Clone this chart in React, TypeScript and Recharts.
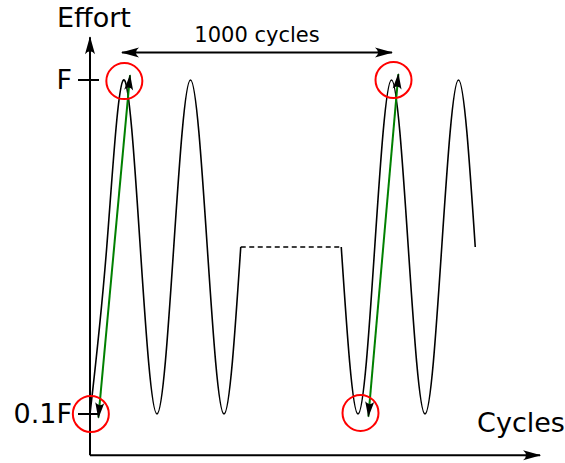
import React from 'react';
import {
  ComposedChart,
  Line,
  XAxis,
  YAxis,
  ReferenceLine,
  ReferenceDot,
  Label,
} from 'recharts';

// x positions, in quarter-cycle units
const cyclePositions = [0, 1, 2, 3, 4, 5, 6, 7, 8, 9, 10, 11, 12, 13, 14, 15, 16, 17, 18, 19, 20, 21, 22, 23];
// effort, as a fraction of F (trough 0.1F, mid 0.55F, peak F)
const waveValues = [0.1, 0.55, 1, 0.55, 0.1, 0.55, 1, 0.55, 0.1, 0.55, null, null, null, null, null, 0.55, 0.1, 0.55, 1, 0.55, 0.1, 0.55, 1, 0.55];
// skipped cycles (dashed)
const gapValues = [null, null, null, null, null, null, null, null, null, 0.55, null, null, null, null, null, 0.55, null, null, null, null, null, null, null, null];

const yTickValues = [0.1, 1];
const yTickLabels = ['0.1F', 'F'];

const circleXs = [2.05, 18.12, 0.05, 16.15];
const circleYs = [0.997, 1.0, 0.1, 0.103];

const greenArrowFromX = [0.5, 16.62];
const greenArrowFromY = [0.09, 0.093];
const greenArrowToX = [2.39, 18.41];
const greenArrowToY = [1.013, 1.016];

const spanFromX = 1.91;
const spanToX = 18.03;
const spanY = 1.074;
const spanLabel = '1000 cycles';

const xAxisTitle = 'Cycles';
const yAxisTitle = 'Effort';

const data = cyclePositions.map((x, i) => ({ x, wave: waveValues[i], gap: gapValues[i] }));

const FONT = 'DejaVu Sans';

const YTick = (props: any) => {
  const { x, y, payload } = props;
  const idx = yTickValues.indexOf(payload.value);
  return (
    <g>
      <line x1={x - 12} y1={y} x2={x + 9} y2={y} stroke="#000" strokeWidth={2} />
      <text x={x - 18} y={y + 9.5} textAnchor="end" fontSize={27} fontFamily={FONT} fill="#000">
        {yTickLabels[idx]}
      </text>
    </g>
  );
};

const EffortLabel = (props: any) => {
  const vb = props.viewBox;
  return (
    <text x={vb.x + vb.width + 4} y={vb.y - 10.5} textAnchor="middle" fontSize={27} fontFamily={FONT} fill="#000">
      {yAxisTitle}
    </text>
  );
};

const CyclesLabel = (props: any) => {
  const vb = props.viewBox;
  return (
    <text x={vb.x + vb.width - 63} y={vb.y - 23} textAnchor="start" fontSize={27} fontFamily={FONT} fill="#000">
      {xAxisTitle}
    </text>
  );
};

export default function App() {
  return (
    <div>
      <style>{'body{margin:0}'}</style>
      <ComposedChart
        width={565}
        height={463}
        data={data}
        margin={{ top: 37.32, right: 24.93, bottom: 0, left: 0 }}
        style={{ fontFamily: FONT }}
      >
        <defs>
          <marker
            id="axisArrow"
            viewBox="-20 -8 22 16"
            refX={0}
            refY={0}
            markerWidth={22}
            markerHeight={16}
            markerUnits="userSpaceOnUse"
            orient="auto-start-reverse"
          >
            <path d="M1,0 L-17,-5 Q-11,0 -17,5 Z" fill="#000" />
          </marker>
          <marker
            id="smallArrow"
            viewBox="-20 -8 22 16"
            refX={0}
            refY={0}
            markerWidth={22}
            markerHeight={16}
            markerUnits="userSpaceOnUse"
            orient="auto-start-reverse"
          >
            <path d="M1,0 L-15,-4.5 Q-10,0 -15,4.5 Z" fill="#000" />
          </marker>
        </defs>
        <XAxis
          dataKey="x"
          type="number"
          domain={[0, 26.87]}
          allowDataOverflow
          height={7.81}
          tick={false}
          tickLine={false}
          axisLine={{ stroke: '#000', strokeWidth: 2, markerEnd: 'url(#axisArrow)' }}
        >
          <Label content={CyclesLabel} />
        </XAxis>
        <YAxis
          type="number"
          domain={[-0.011, 1.115]}
          allowDataOverflow
          width={90}
          ticks={yTickValues}
          tickSize={0}
          tickMargin={0}
          tickLine={false}
          tick={<YTick />}
          axisLine={{ stroke: '#000', strokeWidth: 2, markerStart: 'url(#axisArrow)' }}
        >
          <Label content={EffortLabel} />
        </YAxis>
        <Line
          dataKey="wave"
          type="natural"
          stroke="#000"
          strokeWidth={1.6}
          dot={false}
          activeDot={false}
          connectNulls={false}
          isAnimationActive={false}
        />
        <Line
          dataKey="gap"
          type="linear"
          stroke="#000"
          strokeWidth={1.6}
          strokeDasharray="5 3.5"
          dot={false}
          activeDot={false}
          connectNulls
          isAnimationActive={false}
        />
        {greenArrowFromX.map((fx, i) => (
          <ReferenceLine
            key={'g' + i}
            segment={[
              { x: fx, y: greenArrowFromY[i] },
              { x: greenArrowToX[i], y: greenArrowToY[i] },
            ]}
            stroke="#008000"
            strokeWidth={2}
            markerStart="url(#smallArrow)"
            markerEnd="url(#smallArrow)"
            ifOverflow="visible"
          />
        ))}
        <ReferenceLine
          segment={[
            { x: spanFromX, y: spanY },
            { x: spanToX, y: spanY },
          ]}
          stroke="#000"
          strokeWidth={2}
          markerStart="url(#axisArrow)"
          markerEnd="url(#axisArrow)"
          ifOverflow="visible"
          label={{ value: spanLabel, position: 'top', offset: 10.5, fontSize: 21, fill: '#000', fontFamily: FONT }}
        />
        {circleXs.map((cx, i) => (
          <ReferenceDot
            key={'c' + i}
            x={cx}
            y={circleYs[i]}
            r={18}
            fill="none"
            stroke="#ff0000"
            strokeWidth={2}
            ifOverflow="visible"
          />
        ))}
      </ComposedChart>
    </div>
  );
}
